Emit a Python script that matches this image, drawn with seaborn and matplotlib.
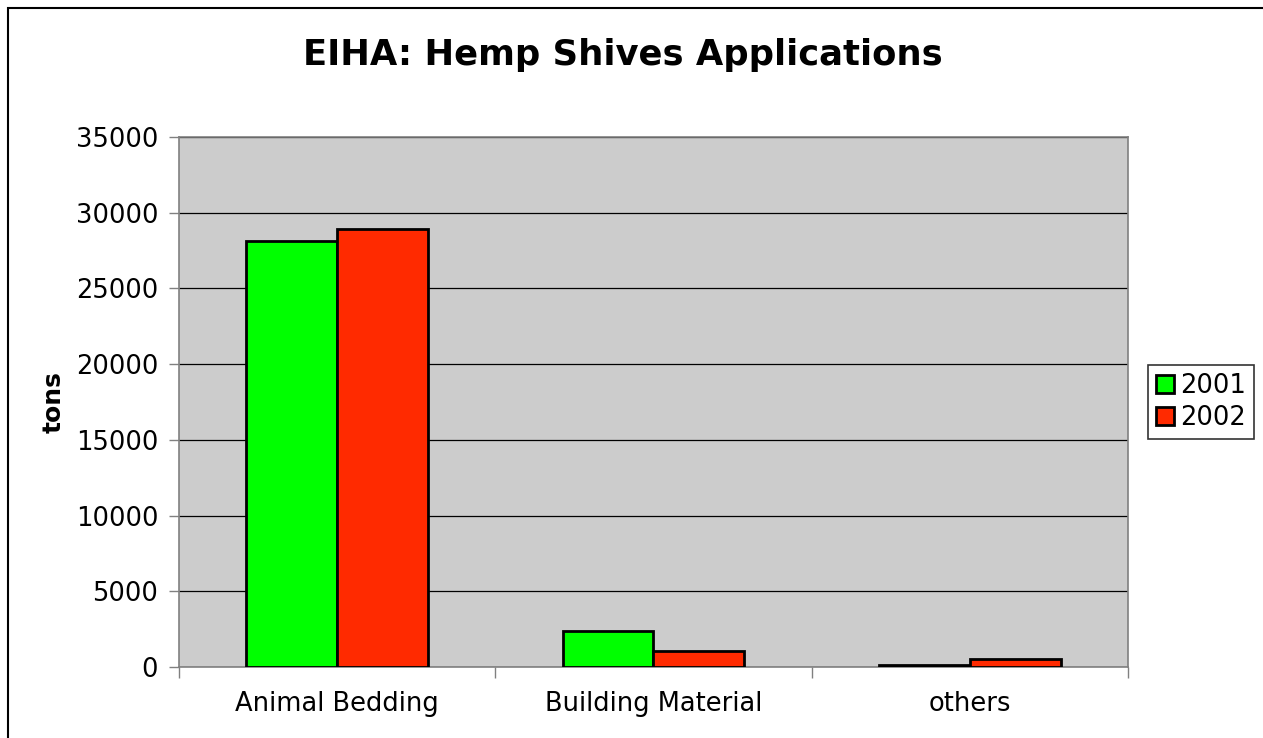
import matplotlib
matplotlib.use("Agg")
import matplotlib.pyplot as plt
import seaborn as sns
import pandas as pd
from matplotlib.patches import Rectangle
from matplotlib.ticker import FixedLocator

# data
categories = ["Animal Bedding", "Building Material", "others"]
years = ["2001", "2002"]
tons_2001 = [28100, 2400, 150]
tons_2002 = [28900, 1050, 520]
y_ticks = [0, 5000, 10000, 15000, 20000, 25000, 30000, 35000]

df = pd.DataFrame({
    "category": categories * 2,
    "year": [years[0]] * 3 + [years[1]] * 3,
    "tons": tons_2001 + tons_2002,
})

sns.set_style("white")
plt.rcParams["font.family"] = ["DejaVu Sans"]
plt.rcParams["text.color"] = "black"
plt.rcParams["axes.labelcolor"] = "black"

fig = plt.figure(figsize=(12.63, 7.38), dpi=100)
ax = fig.add_axes([0.1417, 0.0962, 0.7514, 0.7182])

# frame around whole chart
fig.patches.append(Rectangle((8 / 1263, -0.01), 1.05, 1.0 - 8 / 738 + 0.01,
                             transform=fig.transFigure, fill=False,
                             edgecolor="black", linewidth=1.5, zorder=0))

sns.barplot(data=df, x="category", y="tons", hue="year",
            palette=["#00FF00", "#FF2A00"], width=0.575, gap=0,
            edgecolor="black", linewidth=2, saturation=1, ax=ax, zorder=3)

ax.set_facecolor("#CCCCCC")
ax.set_ylim(0, 35000)
ax.set_xlim(-0.5, 2.5)
ax.set_yticks(y_ticks)
ax.set_yticklabels([str(v) for v in y_ticks], fontsize=18.5)
ax.yaxis.grid(True, color="black", linewidth=0.9, zorder=1)
ax.set_axisbelow(True)

ax.set_xticks(range(len(categories)))
ax.set_xticklabels(categories, fontsize=18.5)
ax.xaxis.set_minor_locator(FixedLocator([-0.5, 0.5, 1.5, 2.5]))
ax.tick_params(axis="x", which="major", length=0, pad=17, labelcolor="black")
ax.tick_params(axis="x", which="minor", length=8, width=1, color="#808080", bottom=True)
ax.tick_params(axis="y", length=7, width=1, color="#808080", left=True, pad=8,
               labelcolor="black")

for side in ["top", "right", "left", "bottom"]:
    ax.spines[side].set_visible(True)
    ax.spines[side].set_color("#808080")
    ax.spines[side].set_linewidth(1.2)

ax.set_xlabel("")
ax.set_ylabel("tons", fontsize=18, fontweight="bold", labelpad=7)
fig.text(0.493, 0.925, "EIHA: Hemp Shives Applications", ha="center", va="center",
         fontsize=25.5, fontweight="bold")

leg = ax.legend(title=None, loc="center left", bbox_to_anchor=(1.021, 0.5),
                fontsize=18.5, frameon=True, fancybox=False, edgecolor="black",
                handlelength=0.7, handleheight=0.7, handletextpad=0.25,
                borderpad=0.3, labelspacing=0.25, borderaxespad=0)
leg.get_frame().set_linewidth(1.2)

fig.savefig("out.png", dpi=100)
